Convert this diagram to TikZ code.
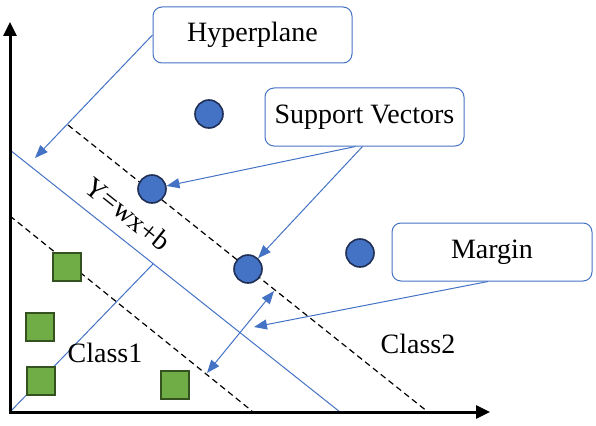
\documentclass[tikz,border=0pt]{standalone}
\usepackage{fontspec}
\setmainfont{Liberation Serif}
\usetikzlibrary{arrows.meta}
\definecolor{mblue}{HTML}{4472C4}
\definecolor{mnavy}{HTML}{1F2F55}
\definecolor{mgreen}{HTML}{70AD47}
\definecolor{mdgreen}{HTML}{34521F}
\begin{document}
\begin{tikzpicture}[x=1pt,y=-1pt,
  lbl/.style={font=\fontsize{28}{34}\selectfont, inner sep=0pt},
  callout/.style={lbl, draw=mblue, line width=1pt, rounded corners=9pt, fill=white},
  dot/.style={circle, draw=mnavy, line width=1.6pt, fill=mblue, minimum size=28pt, inner sep=0pt},
  sq/.style={rectangle, draw=mdgreen, line width=1.6pt, fill=mgreen, minimum size=28pt, inner sep=0pt},
  bl/.style={draw=mblue, line width=1pt},
  blarrow/.style={bl, -{Triangle[length=13pt,width=10pt]}},
  dsh/.style={draw=black, line width=1.2pt, dash pattern=on 6pt off 4pt},
  axis/.style={draw=black, line width=3pt, line join=miter, {Triangle[length=14pt,width=13pt]}-{Triangle[length=14pt,width=13pt]}}
]
\useasboundingbox (0,0) rectangle (596,425);
% coordinates
\coordinate (o) at (10,412);
\coordinate (ytip) at (10,22);
\coordinate (xtip) at (490,412);
\coordinate (h1) at (10,150);
\coordinate (h2) at (340,412);
\coordinate (u1) at (68,125);
\coordinate (u2) at (428,412);
\coordinate (l1) at (10,216);
\coordinate (l2) at (252,411);
\coordinate (n1) at (153,264);
\coordinate (m1) at (207,373);
\coordinate (m2) at (274,291);
\coordinate (hyptip) at (35,158);
\coordinate (martip) at (254,327);
% lines
\path[bl] (h1) -- (h2);
\path[dsh] (u1) -- (u2);
\path[dsh] (l1) -- (l2);
\path[bl] (o) -- (n1);
\path[bl, {Triangle[length=13pt,width=10pt]}-{Triangle[length=13pt,width=10pt]}] (m1) -- (m2);
% axes
\path[axis] (ytip) -- (o) -- (xtip);
% points
\node[dot] (c1) at (209,114) {};
\node[dot] (c2) at (152,189) {};
\node[dot] (c3) at (248,269) {};
\node[dot] (c4) at (360,253) {};
\node[sq] (s1) at (67,267) {};
\node[sq] (s2) at (40,327) {};
\node[sq] (s3) at (41,381) {};
\node[sq] (s4) at (175,385) {};
% labels
\node[lbl, rotate=-38.7] (eq) at (128,214) {Y=wx+b};
\node[lbl, anchor=base] (cl1) at (105,362) {Class1};
\node[lbl, anchor=base] (cl2) at (418,353) {Class2};
% callouts
\node[callout, minimum width=199pt, minimum height=56pt] (hyp) at (252.5,35) {Hyperplane};
\node[callout, minimum width=199pt, minimum height=58pt] (sv) at (364.5,117) {Support Vectors};
\node[callout, minimum width=200pt, minimum height=58pt] (mar) at (492,252) {Margin};
% callout arrows
\path[blarrow] (hyp.west) -- (hyptip);
\path[blarrow] ([xshift=-9pt]sv.south) -- (c2);
\path[blarrow] ([xshift=-2pt]sv.south) -- (c3);
\path[blarrow] ([xshift=-4pt]mar.south) -- (martip);
\end{tikzpicture}
\end{document}
